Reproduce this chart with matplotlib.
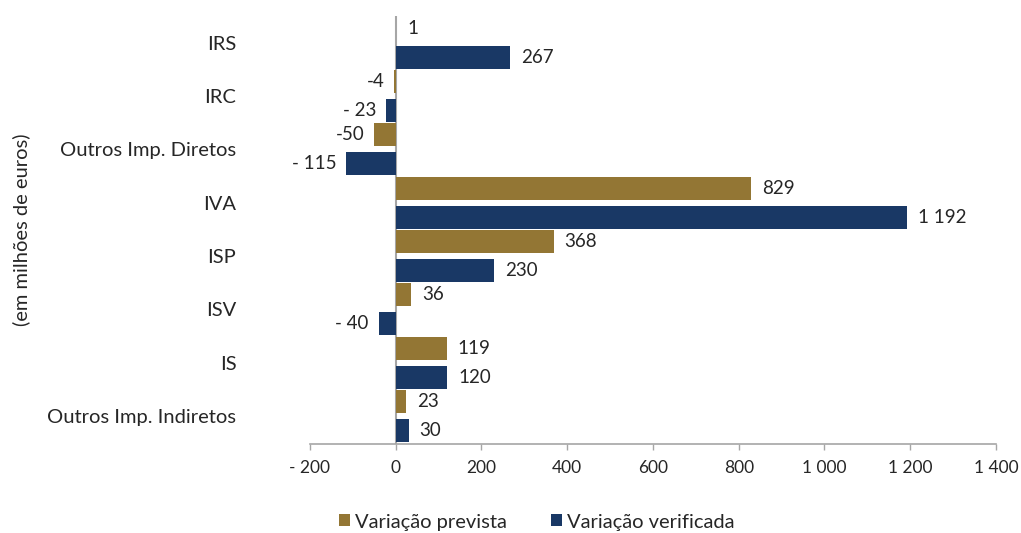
import numpy as np
import matplotlib
matplotlib.use("Agg")
import matplotlib.pyplot as plt
from matplotlib.ticker import FuncFormatter

plt.rcParams['font.family'] = ['Lato', 'DejaVu Sans']

# receita fiscal: variação prevista vs verificada (milhões de euros)
categorias = ["IRS", "IRC", "Outros Imp. Diretos", "IVA", "ISP", "ISV", "IS",
              "Outros Imp. Indiretos"]
prevista = [1, -4, -50, 829, 368, 36, 119, 23]
verificada = [267, -23, -115, 1192, 230, -40, 120, 30]
ticks_x = [-200, 0, 200, 400, 600, 800, 1000, 1200, 1400]

cor_prev = "#937634"
cor_verif = "#193865"
cinza = "#a6a6a6"
texto = "#262626"


def fmt_num(v, espaco_neg=True):
    s = f"{abs(v):,.0f}".replace(",", " ")
    if v < 0:
        return ("- " if espaco_neg else "-") + s
    return s


fig = plt.figure(figsize=(10.21, 5.33), dpi=100)
ax = fig.add_axes([0.3036, 0.167, 0.6719, 0.803])

y = np.arange(len(categorias))
h = 0.43
off = 0.27
b1 = ax.barh(y - off, prevista, height=h, color=cor_prev, label="Variação prevista")
b2 = ax.barh(y + off, verificada, height=h, color=cor_verif, label="Variação verificada")

for bars, vals, esp in ((b1, prevista, False), (b2, verificada, True)):
    for bar, v in zip(bars, vals):
        cy = bar.get_y() + bar.get_height() / 2
        if v >= 0:
            ax.annotate(fmt_num(v), (v, cy), xytext=(8, 0), textcoords="offset points",
                        ha="left", va="center", fontsize=13.5, color=texto)
        else:
            ax.annotate(fmt_num(v, esp), (v, cy), xytext=(-7, 0), textcoords="offset points",
                        ha="right", va="center", fontsize=13.5, color=texto)

ax.set_xlim(-200, 1400)
ax.set_ylim(len(categorias) - 1 + 0.525, -0.5)
ax.set_xticks(ticks_x)
ax.xaxis.set_major_formatter(FuncFormatter(lambda v, p: fmt_num(v)))
ax.set_yticks(y)
ax.set_yticklabels(categorias)
ax.tick_params(axis="y", length=0, pad=53, labelsize=14.5, labelcolor=texto)
ax.tick_params(axis="x", length=4.5, width=1, color=cinza, pad=7, labelsize=12.5,
               labelcolor=texto)

for s in ("top", "right", "left"):
    ax.spines[s].set_visible(False)
ax.spines["bottom"].set_color(cinza)
ax.spines["bottom"].set_linewidth(1.2)
ax.axvline(0, color=cinza, lw=1.5, zorder=0)

ax.set_ylabel("(em milhões de euros)", fontsize=14.5, color=texto)
ax.yaxis.set_label_coords(-0.408, 0.5)

fig.legend(loc="center", bbox_to_anchor=(0.5255, 0.0206), ncol=2, frameon=False,
           fontsize=14.5, handlelength=0.55, handleheight=0.55, handletextpad=0.25,
           columnspacing=2.2, labelcolor=texto)

fig.savefig("out.png", dpi=100)
